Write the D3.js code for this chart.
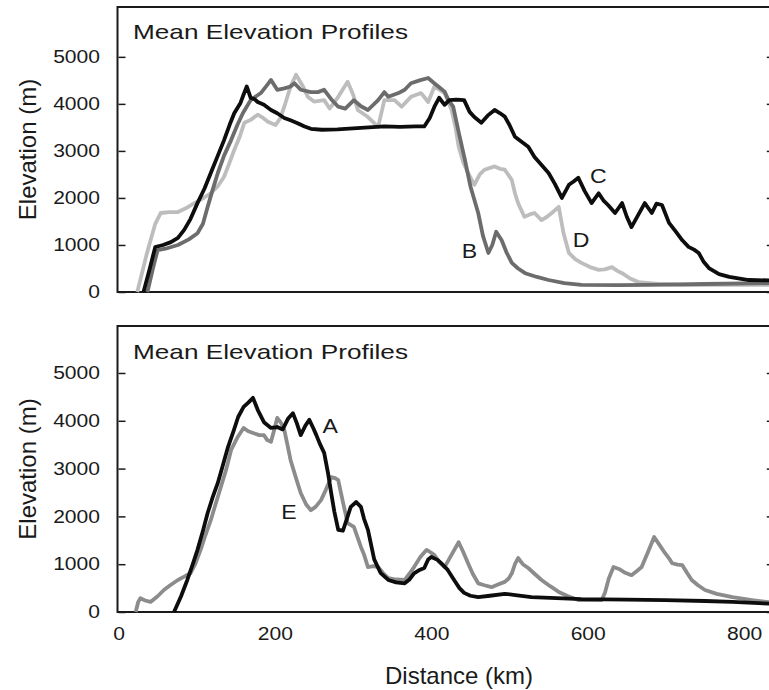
<!DOCTYPE html>
<html>
<head>
<meta charset="utf-8">
<script src="https://cdn.jsdelivr.net/npm/d3@7"></script>
<style>
	body { margin: 0; background: #fff; }
	text { font-family: "Liberation Sans", Arial, sans-serif; fill: #1a1a1a; }
</style>
</head>
<body>
<div id="chart"></div>
<script>
///////////////////////////////////////////////////////////////////////////
//////////////////////////// data /////////////////////////////////////////
///////////////////////////////////////////////////////////////////////////

// [distance km, elevation m]
const profileB = [[37,0],[44,500],[50,890],[60,920],[76,1000],[90,1120],[101,1250],[108,1450],[114,1810],[120,2150],[127,2530],[135,2900],[144,3230],[152,3550],[159,3800],[169,4080],[182,4230],[190,4400],[195,4510],[203,4300],[212,4330],[220,4370],[225,4440],[233,4300],[246,4250],[255,4250],[263,4300],[272,4100],[281,3940],[290,3900],[301,4080],[310,3950],[319,3870],[332,4080],[340,4250],[345,4150],[358,4230],[366,4300],[374,4440],[385,4500],[396,4550],[403,4450],[409,4370],[417,4260],[422,4080],[428,3940],[435,3400],[443,2810],[450,2250],[460,1680],[466,1200],[473,830],[478,1000],[483,1280],[490,1100],[496,850],[503,620],[511,500],[520,400],[535,320],[550,255],[570,190],[592,150],[640,145],[678,150],[750,170],[838,190]];

const profileC = [[32,0],[40,500],[47,957],[57,1000],[67,1060],[76,1150],[84,1320],[92,1550],[101,1890],[110,2200],[118,2530],[127,2900],[135,3230],[142,3550],[148,3800],[156,4020],[160,4200],[164,4370],[169,4130],[174,4100],[178,4040],[186,3980],[195,3870],[203,3800],[212,3700],[220,3650],[229,3590],[238,3520],[246,3470],[260,3450],[280,3460],[300,3480],[320,3500],[340,3520],[360,3510],[380,3520],[391,3520],[398,3700],[404,3940],[410,4130],[417,3980],[423,4080],[432,4090],[442,4080],[449,3830],[455,3720],[464,3600],[472,3750],[481,3870],[488,3800],[494,3730],[500,3550],[507,3300],[515,3200],[524,3090],[532,2870],[541,2700],[550,2530],[558,2300],[567,2000],[576,2280],[582,2350],[588,2430],[596,2150],[605,1890],[614,2100],[620,1950],[626,1850],[635,1680],[644,1890],[650,1600],[656,1380],[665,1650],[673,1890],[682,1680],[688,1880],[695,1850],[704,1470],[712,1300],[721,1100],[729,960],[736,900],[742,830],[748,650],[755,510],[768,380],[781,320],[806,255],[838,245]];

const profileD = [[24,0],[30,400],[36,800],[41,1100],[47,1450],[54,1680],[65,1700],[76,1700],[86,1780],[97,1890],[108,1990],[118,2100],[127,2250],[135,2450],[142,2750],[148,3020],[155,3300],[161,3600],[169,3660],[178,3770],[185,3700],[191,3620],[201,3550],[207,3700],[212,3940],[220,4370],[227,4620],[236,4370],[242,4150],[250,4050],[263,4080],[270,3900],[281,4150],[293,4470],[300,4200],[306,3870],[319,3720],[332,3510],[340,4080],[353,4080],[362,3940],[374,4150],[387,4230],[396,4040],[404,4370],[417,4230],[426,3870],[431,3500],[435,3090],[441,2750],[447,2530],[455,2280],[462,2500],[468,2600],[481,2670],[488,2620],[494,2600],[503,2380],[507,2100],[511,1890],[519,1600],[526,1650],[532,1680],[541,1530],[548,1600],[554,1680],[563,1810],[569,1260],[576,830],[584,700],[592,620],[603,530],[614,470],[622,480],[631,530],[638,450],[644,400],[655,280],[665,210],[690,170],[721,150],[780,150],[838,150]];

const profileA = [[71,0],[80,330],[88,670],[95,1000],[101,1300],[108,1700],[114,2070],[120,2380],[127,2700],[134,3100],[140,3450],[147,3780],[153,4080],[160,4290],[166,4380],[172,4480],[178,4230],[186,3970],[195,3850],[203,3870],[210,3820],[217,4050],[223,4160],[228,3950],[233,3700],[239,3900],[244,4020],[249,3850],[253,3700],[258,3500],[263,3330],[268,2900],[272,2490],[276,2100],[281,1720],[287,1700],[292,1950],[297,2200],[304,2300],[310,2200],[314,1950],[319,1720],[327,1100],[335,820],[345,670],[355,620],[366,600],[372,680],[378,810],[385,880],[391,920],[396,1100],[400,1150],[408,1090],[414,1000],[421,880],[430,650],[436,500],[442,400],[450,340],[460,310],[475,340],[494,380],[510,350],[528,310],[560,290],[592,270],[650,260],[699,250],[750,230],[785,210],[838,170]];

const profileE = [[22,0],[25,200],[28,290],[34,240],[41,210],[50,330],[58,460],[67,570],[76,670],[84,740],[92,810],[98,1000],[105,1300],[111,1600],[118,1920],[124,2250],[131,2620],[138,3000],[144,3390],[152,3650],[160,3850],[166,3780],[173,3740],[180,3700],[186,3700],[190,3600],[195,3560],[199,3800],[203,4060],[208,3950],[212,3810],[216,3500],[220,3180],[227,2800],[233,2490],[240,2250],[246,2130],[252,2200],[259,2340],[265,2550],[272,2820],[277,2800],[281,2760],[287,2300],[293,1860],[301,1780],[310,1360],[314,1200],[319,940],[326,960],[332,940],[338,820],[345,710],[355,680],[366,670],[372,800],[378,940],[386,1150],[394,1300],[399,1250],[404,1190],[410,1050],[417,940],[426,1200],[435,1460],[441,1250],[447,1020],[453,800],[460,600],[468,560],[477,520],[486,580],[494,630],[499,700],[503,810],[507,1000],[511,1130],[517,1000],[524,920],[532,800],[541,670],[552,540],[563,420],[575,330],[588,250],[600,250],[618,250],[622,400],[627,700],[633,940],[640,900],[648,820],[656,770],[663,860],[669,940],[677,1250],[685,1570],[692,1400],[699,1230],[705,1100],[708,1020],[715,990],[721,980],[727,820],[733,670],[741,560],[750,460],[765,380],[785,310],[810,250],[838,190]];

// label anchors [km, m]
const labelsTop = [["B", 439, 723], ["C", 603, 2319], ["D", 581, 957]];
const labelsBottom = [["A", 261, 3745], ["E", 208, 1946]];

const yTicks = [0, 1000, 2000, 3000, 4000, 5000];
const xTicks = [0, 200, 400, 600, 800];

///////////////////////////////////////////////////////////////////////////
//////////////////////////// Set up svg ///////////////////////////////////
///////////////////////////////////////////////////////////////////////////

const width = 769;
const height = 690;
const ink = "#1a1a1a";

const svg = d3
	.select("#chart")
	.append("svg")
	.attr("width", width)
	.attr("height", height);

const x = d3.scaleLinear().domain([0, 838]).range([118.5, 773.8]);

// the scanned figure is a bit wider than tall, so the small text is stretched
function stretch(sel, k) {
	sel.each(function () {
		const w = this.getComputedTextLength();
		d3.select(this).attr("textLength", w * k).attr("lengthAdjust", "spacingAndGlyphs");
	});
}

function panel(top, bottom, yMax, series, labels, titleY) {
	const y = d3.scaleLinear().domain([0, yMax]).range([bottom, top]);
	const g = svg.append("g");

	// left axis, ticks pointing in
	const left = g
		.append("g")
		.attr("transform", "translate(" + x(0) + ",0)")
		.call(d3.axisLeft(y).tickValues(yTicks).tickFormat(d3.format("d")).tickSize(-7).tickPadding(18.5));
	left.select(".domain").remove();
	left.selectAll("line").attr("stroke", ink).attr("stroke-width", 1.5);
	left.selectAll("text").style("font-size", "18px").attr("fill", ink).call(stretch, 1.17);

	const right = g
		.append("g")
		.attr("transform", "translate(" + x.range()[1] + ",0)")
		.call(d3.axisRight(y).tickValues(yTicks).tickSize(-7).tickFormat(""));
	right.select(".domain").remove();
	right.selectAll("line").attr("stroke", ink).attr("stroke-width", 1.5);

	// frame
	g.append("rect")
		.attr("x", x(0) - 1)
		.attr("y", top)
		.attr("width", x.range()[1] - x(0) + 1)
		.attr("height", bottom - top)
		.attr("fill", "none")
		.attr("stroke", ink)
		.attr("stroke-width", 2);

	const line = d3.line().x((d) => x(d[0])).y((d) => y(d[1]));

	g.selectAll(".profile")
		.data(series)
		.enter()
		.append("path")
		.attr("class", "profile")
		.attr("d", (d) => line(d.values))
		.attr("fill", "none")
		.attr("stroke", (d) => d.color)
		.attr("stroke-width", 3.8)
		.attr("stroke-linejoin", "round");

	g.selectAll(".lab")
		.data(labels)
		.enter()
		.append("text")
		.attr("x", (d) => x(d[1]))
		.attr("y", (d) => y(d[2]))
		.style("font-size", "21px")
		.text((d) => d[0])
		.call(stretch, 1.1);

	g.append("text")
		.attr("x", 133)
		.attr("y", titleY)
		.style("font-size", "21px")
		.text("Mean Elevation Profiles")
		.attr("textLength", 275)
		.attr("lengthAdjust", "spacingAndGlyphs");

	g.append("text")
		.attr("transform", "translate(36," + (top + bottom) / 2 + ") rotate(-90)")
		.attr("text-anchor", "middle")
		.style("font-size", "24px")
		.text("Elevation (m)");

	return y;
}

///////////////////////////////////////////////////////////////////////////
//////////////////////////// plot /////////////////////////////////////////
///////////////////////////////////////////////////////////////////////////

panel(7, 292, 6060, [
	{ values: profileD, color: "#bdbdbd" },
	{ values: profileB, color: "#6c6c6c" },
	{ values: profileC, color: "#0d0d0d" }
], labelsTop, 38.5);

panel(326, 612, 5983, [
	{ values: profileE, color: "#8c8c8c" },
	{ values: profileA, color: "#0d0d0d" }
], labelsBottom, 359);

// distance axis under the lower panel
const xAxis = svg
	.append("g")
	.attr("transform", "translate(0,612)")
	.call(d3.axisBottom(x).tickValues(xTicks).tickSize(0).tickPadding(15));
xAxis.select(".domain").remove();
xAxis.selectAll("text").style("font-size", "18px").attr("fill", ink).call(stretch, 1.17);

svg.append("text")
	.attr("x", 459)
	.attr("y", 684)
	.attr("text-anchor", "middle")
	.style("font-size", "24px")
	.text("Distance (km)");
</script>
</body>
</html>
